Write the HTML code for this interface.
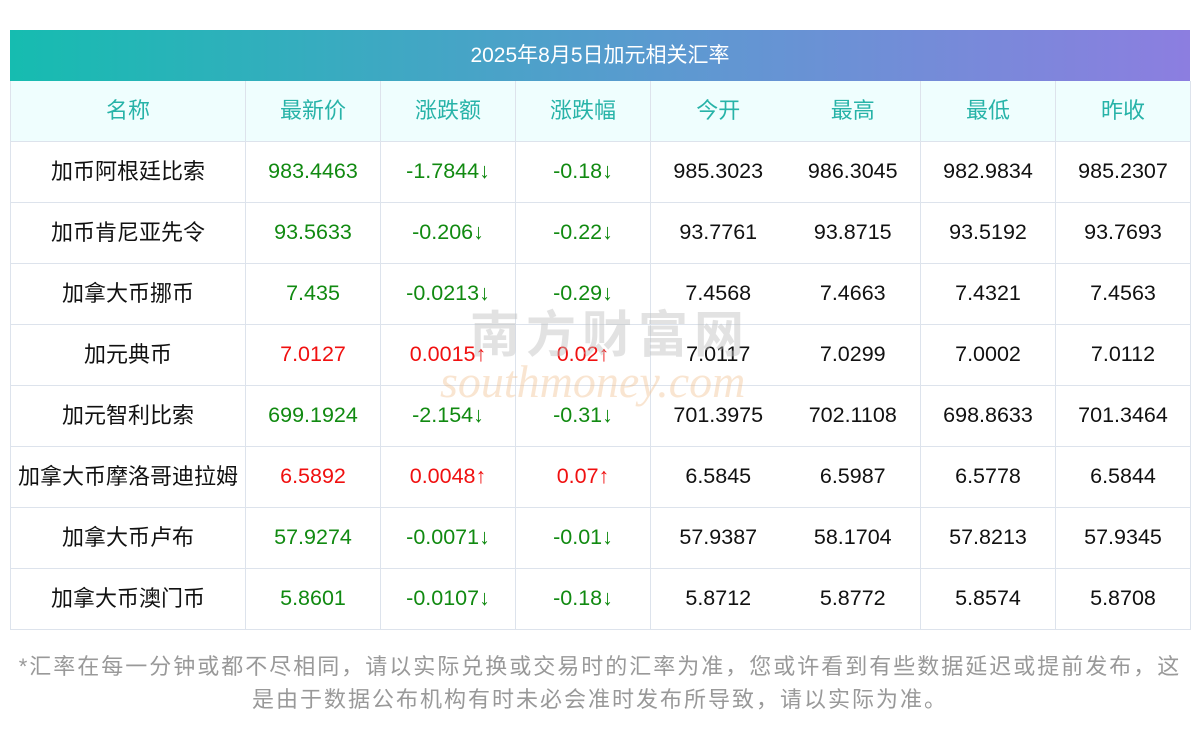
<!DOCTYPE html>
<html><head><meta charset="utf-8"><style>
body{margin:0;width:1200px;height:733px;background:#fff;font-family:"Liberation Sans","Noto Sans CJK SC",sans-serif;position:relative;overflow:hidden}
.title{position:absolute;left:10px;top:30px;width:1180px;height:51px;background:linear-gradient(90deg,#16bcb0,#5b9ad0 55%,#8c7ee0);color:#fff;font-size:21px;line-height:51px;text-align:center}
table{position:absolute;left:10px;top:81px;border-collapse:collapse;table-layout:fixed;width:1180px}
td,th{height:60px;border:1px solid #dde3ec;text-align:center;font-size:21.5px;font-weight:normal;padding:0;color:#111;line-height:1;vertical-align:middle}
td:first-child{font-size:22px}
th{background:#effefe;color:#27b3a8;height:60px;font-size:22px}
tr:first-child th{border-top:none}
.nb{border-right:none}.nl{border-left:none}
.g{color:#118a11}.r{color:#f01010}
.note{position:absolute;left:10px;top:650px;width:1180px;text-align:center;color:#999;font-size:22px;letter-spacing:2px;line-height:33px}
.wm{position:absolute;left:470px;top:295px;font-size:50px;color:rgba(190,190,190,.45);letter-spacing:6px;font-weight:bold}
.wm2{position:absolute;left:440px;top:355px;font-size:46px;color:rgba(240,190,140,.4);font-style:italic;font-family:"Liberation Serif",serif}
</style></head><body>
<div class="title">2025年8月5日加元相关汇率</div>
<table>
<colgroup><col style="width:235px"><col style="width:135px"><col style="width:135px"><col style="width:135px"><col style="width:135px"><col style="width:135px"><col style="width:135px"><col style="width:135px"></colgroup>
<tr><th>名称</th><th>最新价</th><th>涨跌额</th><th>涨跌幅</th><th class="nb">今开</th><th class="nl">最高</th><th>最低</th><th>昨收</th></tr>
<tr><td>加币阿根廷比索</td><td class="g">983.4463</td><td class="g">-1.7844↓</td><td class="g">-0.18↓</td><td class="nb">985.3023</td><td class="nl">986.3045</td><td>982.9834</td><td>985.2307</td></tr>
<tr><td>加币肯尼亚先令</td><td class="g">93.5633</td><td class="g">-0.206↓</td><td class="g">-0.22↓</td><td class="nb">93.7761</td><td class="nl">93.8715</td><td>93.5192</td><td>93.7693</td></tr>
<tr><td>加拿大币挪币</td><td class="g">7.435</td><td class="g">-0.0213↓</td><td class="g">-0.29↓</td><td class="nb">7.4568</td><td class="nl">7.4663</td><td>7.4321</td><td>7.4563</td></tr>
<tr><td>加元典币</td><td class="r">7.0127</td><td class="r">0.0015↑</td><td class="r">0.02↑</td><td class="nb">7.0117</td><td class="nl">7.0299</td><td>7.0002</td><td>7.0112</td></tr>
<tr><td>加元智利比索</td><td class="g">699.1924</td><td class="g">-2.154↓</td><td class="g">-0.31↓</td><td class="nb">701.3975</td><td class="nl">702.1108</td><td>698.8633</td><td>701.3464</td></tr>
<tr><td>加拿大币摩洛哥迪拉姆</td><td class="r">6.5892</td><td class="r">0.0048↑</td><td class="r">0.07↑</td><td class="nb">6.5845</td><td class="nl">6.5987</td><td>6.5778</td><td>6.5844</td></tr>
<tr><td>加拿大币卢布</td><td class="g">57.9274</td><td class="g">-0.0071↓</td><td class="g">-0.01↓</td><td class="nb">57.9387</td><td class="nl">58.1704</td><td>57.8213</td><td>57.9345</td></tr>
<tr><td>加拿大币澳门币</td><td class="g">5.8601</td><td class="g">-0.0107↓</td><td class="g">-0.18↓</td><td class="nb">5.8712</td><td class="nl">5.8772</td><td>5.8574</td><td>5.8708</td></tr>
</table>
<div class="wm">南方财富网</div>
<div class="wm2">southmoney.com</div>
<div class="note">*汇率在每一分钟或都不尽相同，请以实际兑换或交易时的汇率为准，您或许看到有些数据延迟或提前发布，这<br>是由于数据公布机构有时未必会准时发布所导致，请以实际为准。</div>
</body></html>
